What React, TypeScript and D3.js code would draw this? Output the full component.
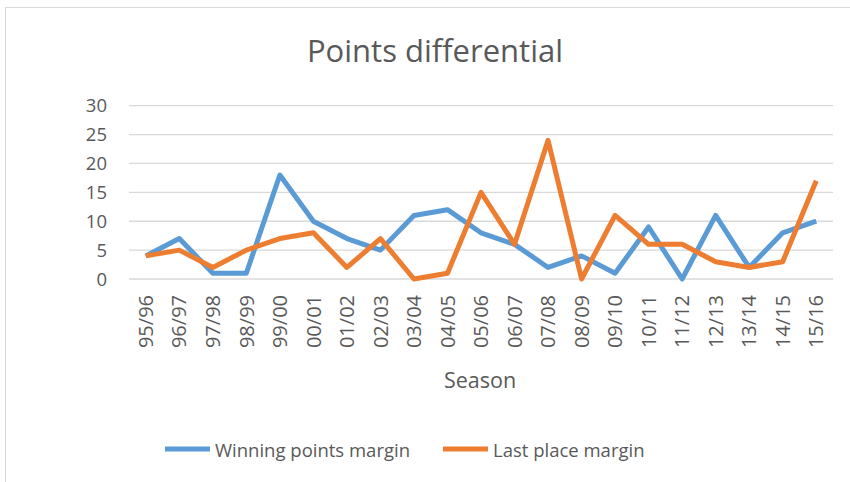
import * as d3 from "d3";
import { useEffect, useRef } from "react";

const seasons = ["95/96", "96/97", "97/98", "98/99", "99/00", "00/01", "01/02", "02/03", "03/04", "04/05", "05/06",
  "06/07", "07/08", "08/09", "09/10", "10/11", "11/12", "12/13", "13/14", "14/15", "15/16"];
const winningMargin = [4, 7, 1, 1, 18, 10, 7, 5, 11, 12, 8, 6, 2, 4, 1, 9, 0, 11, 2, 8, 10];
const lastPlaceMargin = [4, 5, 2, 5, 7, 8, 2, 7, 0, 1, 15, 6, 24, 0, 11, 6, 6, 3, 2, 3, 17];
const yTicks = [0, 5, 10, 15, 20, 25, 30];
const seriesNames = ["Winning points margin", "Last place margin"];
const colors = ["#5b9bd5", "#ed7d31"];

const App = () => {
  const ref = useRef<SVGSVGElement>(null);
  const W = 850, H = 482;
  const margin = { top: 105.7, right: 17, bottom: 203, left: 129 };
  const textColor = "#595959";
  const font = "'Open Sans', sans-serif";

  useEffect(() => {
    const svg = d3.select(ref.current);
    svg.selectAll("*").remove();

    const x = d3.scaleBand().domain(seasons).range([margin.left, W - margin.right]);
    const y = d3.scaleLinear().domain([0, 30]).range([H - margin.bottom, margin.top]);

    // chart frame
    svg.append("rect")
      .attr("x", 5.5).attr("y", 7.5)
      .attr("width", 900).attr("height", 500)
      .attr("fill", "white").attr("stroke", "#d9d9d9");

    // title
    svg.append("text")
      .attr("x", 435).attr("y", 62)
      .attr("text-anchor", "middle")
      .attr("font-family", font).attr("font-size", 31)
      .attr("fill", textColor)
      .text("Points differential");

    // gridlines
    svg.append("g")
      .selectAll("line")
      .data(yTicks)
      .join("line")
      .attr("x1", margin.left).attr("x2", W - margin.right)
      .attr("y1", d => y(d)).attr("y2", d => y(d))
      .attr("stroke", "#d9d9d9").attr("stroke-width", 1.3);

    // y axis labels
    svg.append("g")
      .selectAll("text")
      .data(yTicks)
      .join("text")
      .attr("x", 107).attr("y", d => y(d))
      .attr("dy", "0.36em")
      .attr("text-anchor", "end")
      .attr("font-family", font).attr("font-size", 18.5)
      .attr("fill", textColor)
      .text(d => d);

    // x axis labels (rotated)
    svg.append("g")
      .selectAll("text")
      .data(seasons)
      .join("text")
      .attr("transform", d => `translate(${x(d)! + x.bandwidth() / 2},${y(0) + 16}) rotate(-90)`)
      .attr("dy", "0.36em")
      .attr("text-anchor", "end")
      .attr("font-family", font).attr("font-size", 20)
      .attr("fill", textColor)
      .text(d => d);

    // x axis title
    svg.append("text")
      .attr("x", 480).attr("y", 388)
      .attr("text-anchor", "middle")
      .attr("font-family", font).attr("font-size", 21.5)
      .attr("fill", textColor)
      .text("Season");

    const line = d3.line<number>()
      .x((d, i) => x(seasons[i])! + x.bandwidth() / 2)
      .y(d => y(d));

    [winningMargin, lastPlaceMargin].forEach((vals, k) => {
      svg.append("path")
        .datum(vals)
        .attr("d", line)
        .attr("fill", "none")
        .attr("stroke", colors[k])
        .attr("stroke-width", 5)
        .attr("stroke-linejoin", "round");
    });

    // legend
    const legendX = [165, 443];
    seriesNames.forEach((name, k) => {
      svg.append("line")
        .attr("x1", legendX[k]).attr("x2", legendX[k] + 45)
        .attr("y1", 449).attr("y2", 449)
        .attr("stroke", colors[k]).attr("stroke-width", 5);
      svg.append("text")
        .attr("x", legendX[k] + 50).attr("y", 456.5)
        .attr("font-family", font).attr("font-size", 18.5)
        .attr("fill", textColor)
        .text(name);
    });
  }, []);

  return (
    <svg ref={ref} width={W} height={H} style={{ position: "absolute", left: 0, top: 0 }} />
  );
};

export default App;
